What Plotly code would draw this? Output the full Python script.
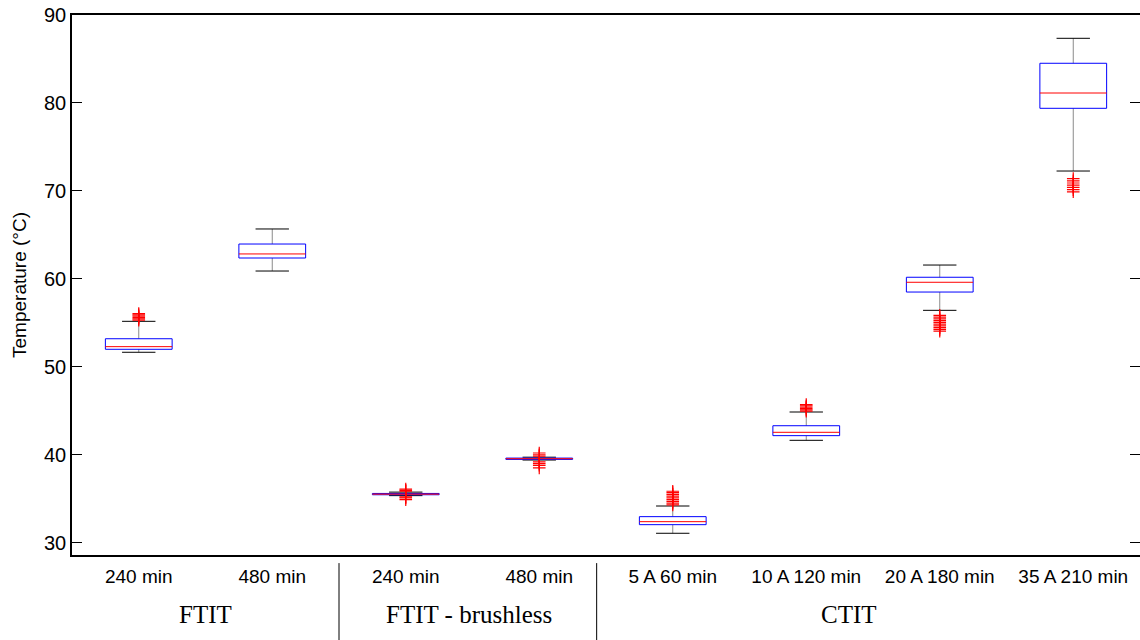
import plotly.graph_objects as go

# ---- data ----
tick_labels = ["240 min", "480 min", "240 min", "480 min",
               "5 A 60 min", "10 A 120 min", "20 A 180 min", "35 A 210 min"]
positions = [1, 2, 3, 4, 5, 6, 7, 8]
q1 = [51.99, 62.37, 35.45, 39.47, 32.05, 42.17, 58.50, 79.39]
median = [52.29, 62.83, 35.52, 39.55, 32.39, 42.55, 59.61, 81.13]
q3 = [53.19, 63.96, 35.60, 39.62, 32.96, 43.30, 60.18, 84.51]
lower_whisker = [51.65, 60.89, 35.35, 39.40, 31.07, 41.64, 56.42, 72.26]
upper_whisker = [55.17, 65.67, 35.75, 39.72, 34.17, 44.86, 61.57, 87.35]
outliers = [
    [55.3, 55.45, 55.6, 55.75, 55.9, 56.05],
    [],
    [34.9, 35.1, 35.2, 35.85, 35.95, 36.1],
    [38.5, 38.8, 39.0, 39.2, 39.85, 40.0, 40.2],
    [34.3, 34.5, 34.7, 34.9, 35.1, 35.3, 35.5, 35.7, 35.85],
    [44.95, 45.1, 45.25, 45.4, 45.55, 45.7],
    [54.05, 54.25, 54.45, 54.65, 54.85, 55.05, 55.25, 55.45, 55.65, 55.85],
    [69.9, 70.15, 70.4, 70.65, 70.9, 71.15, 71.4],
]
y_ticks = [30, 40, 50, 60, 70, 80, 90]
group_labels = ["FTIT", "FTIT - brushless", "CTIT"]
group_centers = [1.5, 3.475, 6.32]
separators = [2.5, 4.43]

BOX_HALF = 0.25
CAP_HALF = 0.125
Y_RANGE = [28.6, 90]

# ---- build line geometry from data ----
bx, by, mx, my, wx, wy, cx, cy = [], [], [], [], [], [], [], []
ox, oy = [], []
for i, p in enumerate(positions):
    bx += [p - BOX_HALF, p + BOX_HALF, p + BOX_HALF, p - BOX_HALF, p - BOX_HALF, None]
    by += [q1[i], q1[i], q3[i], q3[i], q1[i], None]
    mx += [p - BOX_HALF, p + BOX_HALF, None]
    my += [median[i], median[i], None]
    wx += [p, p, None, p, p, None]
    wy += [q3[i], upper_whisker[i], None, q1[i], lower_whisker[i], None]
    cx += [p - CAP_HALF, p + CAP_HALF, None, p - CAP_HALF, p + CAP_HALF, None]
    cy += [upper_whisker[i], upper_whisker[i], None, lower_whisker[i], lower_whisker[i], None]
    for v in outliers[i]:
        ox.append(p)
        oy.append(v)

fig = go.Figure()
fig.add_trace(go.Scatter(x=wx, y=wy, mode="lines",
                         line=dict(color="#8a8a8a", width=1),
                         hoverinfo="skip", showlegend=False))
fig.add_trace(go.Scatter(x=cx, y=cy, mode="lines",
                         line=dict(color="#000000", width=1),
                         hoverinfo="skip", showlegend=False))
fig.add_trace(go.Scatter(x=bx, y=by, mode="lines",
                         line=dict(color="#0000ff", width=1),
                         hoverinfo="skip", showlegend=False))
fig.add_trace(go.Scatter(x=mx, y=my, mode="lines",
                         line=dict(color="#ff0000", width=1),
                         hoverinfo="skip", showlegend=False))
fig.add_trace(go.Scatter(x=ox, y=oy, mode="markers",
                         marker=dict(symbol="cross-thin", size=9,
                                     line=dict(color="#ff0000", width=1.2)),
                         showlegend=False))
# invisible trace to carry the right-hand tick axis
fig.add_trace(go.Scatter(x=[positions[0]], y=[median[0]], yaxis="y2", mode="markers",
                         marker=dict(opacity=0), hoverinfo="skip", showlegend=False))

shapes = []
for s in separators:
    shapes.append(dict(type="line", xref="x", yref="paper", x0=s, x1=s,
                       y0=-0.015, y1=-0.16, line=dict(color="#000000", width=1)))

annotations = []
for lab, c in zip(group_labels, group_centers):
    annotations.append(dict(text=lab, x=c, xref="x", y=-0.111, yref="paper",
                            showarrow=False, yanchor="middle", xanchor="center",
                            font=dict(family="Liberation Serif, Times New Roman, serif",
                                      size=25, color="#000000")))

fig.update_layout(
    width=1140, height=640, autosize=False,
    margin=dict(l=72, r=0, t=15, b=85),
    plot_bgcolor="white", paper_bgcolor="white",
    font=dict(family="Liberation Sans, Arial, sans-serif", size=20, color="#000000"),
    shapes=shapes, annotations=annotations,
    xaxis=dict(range=[0.5, 8.5], tickmode="array", tickvals=positions,
               ticktext=tick_labels, ticks="", showgrid=False, zeroline=False,
               showline=True, linecolor="#000000", linewidth=1.5, mirror=True,
               tickfont=dict(size=19), ticklabelstandoff=3),
    yaxis=dict(range=Y_RANGE, tickmode="array", tickvals=y_ticks,
               ticks="inside", ticklen=10, tickcolor="#000000", tickwidth=1,
               showgrid=False, zeroline=False,
               showline=True, linecolor="#000000", linewidth=1.5, mirror=False,
               tickfont=dict(size=20),
               title=dict(text="Temperature (°C)", font=dict(size=19), standoff=12)),
    yaxis2=dict(range=Y_RANGE, overlaying="y", side="right", tickmode="array",
                tickvals=y_ticks, ticks="inside", ticklen=10, tickcolor="#000000",
                tickwidth=1, showticklabels=False, showgrid=False, zeroline=False,
                showline=False),
)

fig.write_html("out.html")
